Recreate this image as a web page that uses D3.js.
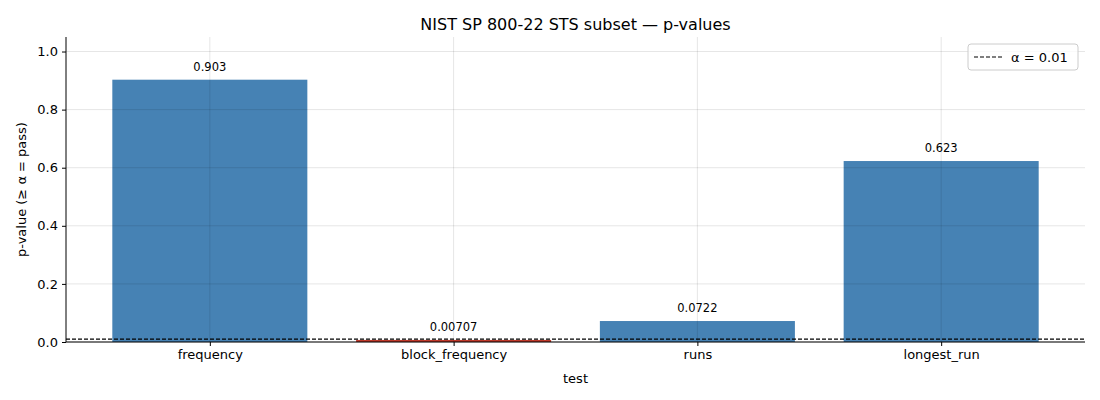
<!DOCTYPE html>
<html><head><meta charset="utf-8">
<script src="https://cdn.jsdelivr.net/npm/d3@7"></script>
<style>body{margin:0;background:#fff}text{font-family:"DejaVu Sans",sans-serif}</style>
</head><body><svg id="c" width="1100" height="400"></svg>
<script>
const categories=["frequency","block_frequency","runs","longest_run"];
const pvalues=[0.903,0.00707,0.0722,0.623];
const labels=["0.903","0.00707","0.0722","0.623"];
const yTicks=[0,0.2,0.4,0.6,0.8,1.0];
const alpha=0.01;
const svg=d3.select("#c");
const L=66,R=1085,T=37,B=342;
const x=d3.scaleLinear().domain([-0.59,3.59]).range([L,R]);
const y=d3.scaleLinear().domain([0,1.05]).range([B,T]);
const bw=x(0.8)-x(0);
const g=svg.append("g");
g.selectAll("rect").data(pvalues).enter().append("rect")
 .attr("x",(d,i)=>x(i)-bw/2).attr("width",bw).attr("y",d=>y(d)).attr("height",d=>B-y(d))
 .attr("fill",d=>d<alpha?"#c0392b":"#4682b4");
// grid
yTicks.forEach(t=>g.append("line").attr("x1",L).attr("x2",R).attr("y1",y(t)).attr("y2",y(t)).attr("stroke","#000").attr("stroke-opacity",0.1));
categories.forEach((c,i)=>g.append("line").attr("x1",x(i)).attr("x2",x(i)).attr("y1",T).attr("y2",B).attr("stroke","#000").attr("stroke-opacity",0.1));
g.selectAll("text.v").data(pvalues).enter().append("text")
 .attr("x",(d,i)=>x(i)).attr("y",d=>y(d)-9).attr("text-anchor","middle").attr("font-size",11.5).text((d,i)=>labels[i]);
g.append("line").attr("x1",L).attr("x2",R).attr("y1",y(alpha)).attr("y2",y(alpha)).attr("stroke","#000").attr("stroke-dasharray","4,2").attr("stroke-width",1.1);
// axes
const ya=svg.append("g").attr("transform",`translate(${L},0)`).call(d3.axisLeft(y).tickValues(yTicks).tickFormat(d3.format(".1f")).tickSize(4).tickPadding(4));
ya.select(".domain").attr("d",`M0,${T}V${B}`);
const xa=svg.append("g").attr("transform",`translate(0,${B})`).call(d3.axisBottom(x).tickValues([0,1,2,3]).tickFormat(i=>categories[i]).tickSize(4).tickPadding(4));
xa.select(".domain").attr("d",`M${L},0H${R}`);
svg.selectAll(".tick text").attr("font-size",13).attr("fill","#000").style("font-family","DejaVu Sans");
svg.append("text").attr("x",(L+R)/2).attr("y",383).attr("text-anchor","middle").attr("font-size",13).text("test");
svg.append("text").attr("transform",`translate(26,${(T+B)/2}) rotate(-90)`).attr("text-anchor","middle").attr("font-size",13).text("p-value (≥ α = pass)");
svg.append("text").attr("x",(L+R)/2).attr("y",30).attr("text-anchor","middle").attr("font-size",16).text("NIST SP 800-22 STS subset — p-values");
// legend
const lg=svg.append("g");
lg.append("rect").attr("x",968).attr("y",44).attr("width",110).attr("height",26).attr("rx",3).attr("fill","#fff").attr("fill-opacity",0.8).attr("stroke","#ccc");
lg.append("line").attr("x1",974).attr("x2",1002).attr("y1",57).attr("y2",57).attr("stroke","#000").attr("stroke-dasharray","4,2").attr("stroke-width",1.1);
lg.append("text").attr("x",1011).attr("y",62).attr("font-size",13).text("α = 0.01");
</script></body></html>
